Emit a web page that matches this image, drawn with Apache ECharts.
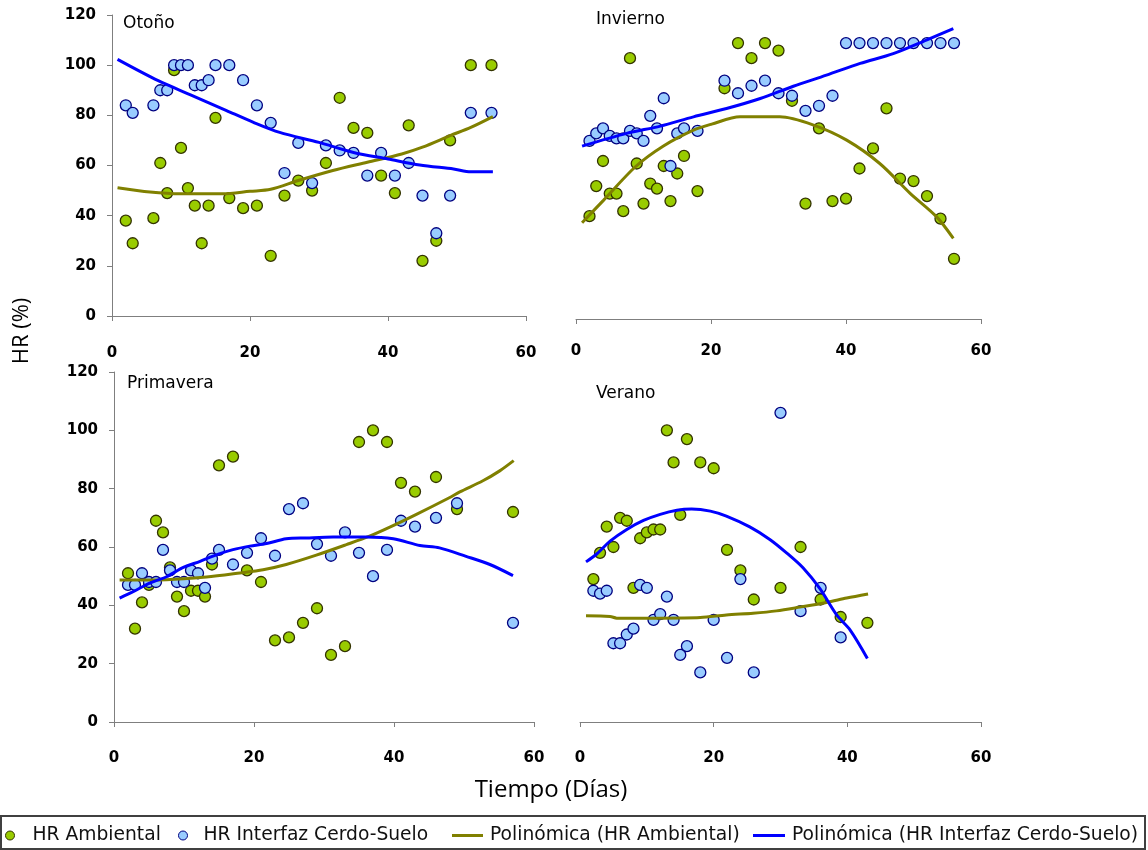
<!DOCTYPE html>
<html>
<head>
<meta charset="utf-8">
<script src="https://cdn.jsdelivr.net/npm/echarts@6/dist/echarts.min.js"></script>
<style>
html,body{margin:0;padding:0;background:#fff;}
#chart{width:1148px;height:850px;}
</style>
</head>
<body>
<div id="chart"></div>
<script>
// ---- Data: [día, HR %] ----
var panelNames = ['Otoño', 'Invierno', 'Primavera', 'Verano'];
var xTicks = [0, 20, 40, 60];
var yTicks = [0, 20, 40, 60, 80, 100, 120];
var seriesNames = ['HR Ambiental', 'HR Interfaz Cerdo-Suelo', 'Polinómica (HR Ambiental)', 'Polinómica (HR Interfaz Cerdo-Suelo)'];

// Otoño
var otonoAmb = [[2,38],[3,29],[6,39],[7,61],[8,49],[9,98],[10,67],[11,51],[12,44],[13,29],[14,44],[15,79],[17,47],[19,43],[21,44],[23,24],[25,48],[27,54],[29,50],[31,61],[33,87],[35,75],[37,73],[39,56],[41,49],[43,76],[45,22],[47,30],[49,70],[52,100],[55,100]];
var otonoInt = [[2,84],[3,81],[6,84],[7,90],[8,90],[9,100],[10,100],[11,100],[12,92],[13,92],[14,94],[15,100],[17,100],[19,94],[21,84],[23,77],[25,57],[27,69],[29,53],[31,68],[33,66],[35,65],[37,56],[39,65],[41,56],[43,61],[45,48],[47,33],[49,48],[52,81],[55,81]];
var otonoAmbTrend = [[0.8,51.1],[5.5,49.4],[10,48.7],[16,48.7],[20,49.7],[23,50.5],[27,54],[32,58],[37,61.3],[42,64.6],[45,67.3],[49,71.9],[52,75.2],[55.2,79.5]];
var otonoIntTrend = [[0.8,102.3],[6.7,93.8],[11.3,88.3],[16.6,81.9],[20.5,77.2],[24.3,73.2],[30,69.2],[35,65.2],[40,62.6],[44.6,60.2],[49.5,58.6],[52,57.5],[55.2,57.5]];

// Invierno
var inviernoAmb = [[2,41],[3,53],[4,63],[5,50],[6,50],[7,43],[8,104],[9,62],[10,46],[11,54],[12,52],[13,61],[14,47],[15,58],[16,65],[18,51],[22,92],[24,110],[26,104],[28,110],[30,107],[32,87],[34,46],[36,76],[38,47],[40,48],[42,60],[44,68],[46,84],[48,56],[50,55],[52,49],[54,40],[56,24]];
var inviernoInt = [[2,71],[3,74],[4,76],[5,73],[6,72],[7,72],[8,75],[9,74],[10,71],[11,81],[12,76],[13,88],[14,61],[15,74],[16,76],[18,75],[22,95],[24,90],[26,93],[28,95],[30,90],[32,89],[34,83],[36,85],[38,89],[40,110],[42,110],[44,110],[46,110],[48,110],[50,110],[52,110],[54,110],[56,110]];
var inviernoAmbTrend = [[0.9,38.4],[4.1,47.4],[8.8,60.7],[12.9,68.9],[17.4,75.3],[20.1,77.7],[24.3,80.6],[30.2,80.6],[35.2,77.3],[40.1,71.3],[45,62],[49.5,50.1],[53.4,40.8],[55.9,32.1]];
var inviernoIntTrend = [[0.9,68.9],[7.5,74],[12.5,76.9],[17.4,80.6],[22.3,83.9],[27.3,87.9],[32.2,92.8],[37.1,97.2],[42.1,101.9],[47,105.8],[51.9,111.2],[55.9,115.8]];

// Primavera
var primaveraAmb = [[2,51],[3,32],[4,41],[5,47],[6,69],[7,65],[8,53],[9,43],[10,38],[11,45],[12,45],[13,43],[14,54],[15,88],[17,91],[19,52],[21,48],[23,28],[25,29],[27,34],[29,39],[31,23],[33,26],[35,96],[37,100],[39,96],[41,82],[43,79],[46,84],[49,73],[57,72]];
var primaveraInt = [[2,47],[3,47],[4,51],[5,48],[6,48],[7,59],[8,52],[9,48],[10,48],[11,52],[12,51],[13,46],[14,56],[15,59],[17,54],[19,58],[21,63],[23,57],[25,73],[27,75],[29,61],[31,57],[33,65],[35,58],[37,50],[39,59],[41,69],[43,67],[46,70],[49,75],[57,34]];
var primaveraAmbTrend = [[0.8,48.7],[7.5,48.8],[13.2,49.7],[18,51.1],[21.3,52.2],[24.6,54],[28.9,57.2],[33.2,60.8],[36.5,63.7],[39.4,66.8],[43.2,71.2],[47.9,76.9],[49.4,78.9],[52.7,82.7],[55.1,86.1],[57.1,89.6]];
var primaveraIntTrend = [[0.8,42.5],[2.8,44.8],[5.1,47.6],[7.5,49.8],[9.9,53],[12.3,55.1],[14.7,57.4],[17,59.1],[19.4,60.3],[21.8,61.2],[24.6,62.8],[27.5,63.1],[31.3,63.4],[36.1,63.4],[39.9,62.8],[43.7,60.5],[46.5,59.7],[50.3,56.8],[53.7,54],[57,50.2]];

// Verano
var veranoAmb = [[2,49],[3,58],[4,67],[5,60],[6,70],[7,69],[8,46],[9,63],[10,65],[11,66],[12,66],[13,100],[14,89],[15,71],[16,97],[18,89],[20,87],[22,59],[24,52],[26,42],[30,46],[33,60],[36,42],[39,36],[43,34]];
var veranoInt = [[2,45],[3,44],[4,45],[5,27],[6,27],[7,30],[8,32],[9,47],[10,46],[11,35],[12,37],[13,43],[14,35],[15,23],[16,26],[18,17],[20,35],[22,22],[24,49],[26,17],[30,106],[33,38],[36,46],[39,29]];
var veranoAmbTrend = [[0.9,36.4],[4.5,36.2],[5.5,35.6],[12,35.6],[18,35.8],[21.9,36.7],[25.9,37.3],[29.4,38.1],[32.9,39.4],[36.9,41],[39.9,42.5],[43.1,43.9]];
var veranoIntTrend = [[0.9,54.9],[2.5,57.6],[4.5,62],[7,66],[9.5,69.1],[12,71.2],[14.5,72.6],[16.7,73],[19.5,72.3],[21.9,70.6],[25.4,66.9],[28.4,62.6],[30.9,58],[33.4,52.8],[35.9,45.7],[38.4,36.7],[40.4,31.6],[43,21.8]];

var panels = [
  {amb: otonoAmb, int: otonoInt, ambT: otonoAmbTrend, intT: otonoIntTrend},
  {amb: inviernoAmb, int: inviernoInt, ambT: inviernoAmbTrend, intT: inviernoIntTrend},
  {amb: primaveraAmb, int: primaveraInt, ambT: primaveraAmbTrend, intT: primaveraIntTrend},
  {amb: veranoAmb, int: veranoInt, ambT: veranoAmbTrend, intT: veranoIntTrend}
];

// ---- Layout / styles ----
var grids = [
  {left: 112, top: 15, width: 414, height: 301},
  {left: 576, top: 18, width: 405, height: 301},
  {left: 114, top: 372, width: 420, height: 350},
  {left: 580, top: 372, width: 401, height: 350}
];
var xLabelMargin = [30, 25, 29, 29];
var showY = [true, false, true, false];
var titlePos = [[123, 15], [596, 11], [127, 375], [596, 385]];

var axisColor = '#7f7f7f';
var tickFont = {color: '#000', fontWeight: 'bold', fontSize: 15, fontFamily: 'DejaVu Sans'};
var ambFill = '#99CC00', ambBorder = '#333300';
var intFill = '#99CCFF', intBorder = '#000080';
var ambLine = '#808000', intLine = '#0000FF';

var xAxes = [], yAxes = [], series = [], titles = [];
for (var i = 0; i < 4; i++) {
  xAxes.push({
    type: 'value', gridIndex: i, min: xTicks[0], max: xTicks[xTicks.length - 1], interval: 20,
    axisLine: {show: true, onZero: false, lineStyle: {color: axisColor, width: 1}},
    axisTick: {show: true, length: 5, lineStyle: {color: axisColor}},
    axisLabel: Object.assign({margin: xLabelMargin[i], showMinLabel: true, showMaxLabel: true}, tickFont),
    splitLine: {show: false}
  });
  yAxes.push({
    type: 'value', gridIndex: i, min: yTicks[0], max: yTicks[yTicks.length - 1], interval: 20,
    axisLine: {show: showY[i], lineStyle: {color: axisColor, width: 1}},
    axisTick: {show: showY[i], length: 5, lineStyle: {color: axisColor}},
    axisLabel: Object.assign({show: showY[i], margin: 16}, tickFont),
    splitLine: {show: false}
  });
  var p = panels[i];
  series.push({
    name: seriesNames[0], type: 'scatter', xAxisIndex: i, yAxisIndex: i, data: p.amb,
    symbol: 'circle', symbolSize: 11, z: 2,
    itemStyle: {color: ambFill, borderColor: ambBorder, borderWidth: 1.3, opacity: 1}
  });
  series.push({
    name: seriesNames[1], type: 'scatter', xAxisIndex: i, yAxisIndex: i, data: p.int,
    symbol: 'circle', symbolSize: 11, z: 3,
    itemStyle: {color: intFill, borderColor: intBorder, borderWidth: 1.3, opacity: 1}
  });
  series.push({
    name: seriesNames[2], type: 'line', xAxisIndex: i, yAxisIndex: i, data: p.ambT,
    showSymbol: false, symbol: 'none', smooth: 0.3, z: 4,
    lineStyle: {color: ambLine, width: 3}, itemStyle: {color: ambLine}
  });
  series.push({
    name: seriesNames[3], type: 'line', xAxisIndex: i, yAxisIndex: i, data: p.intT,
    showSymbol: false, symbol: 'none', smooth: 0.3, z: 5,
    lineStyle: {color: intLine, width: 3}, itemStyle: {color: intLine}
  });
  titles.push({
    text: panelNames[i], left: titlePos[i][0], top: titlePos[i][1], padding: 0,
    textStyle: {fontFamily: 'DejaVu Sans', fontSize: 17, fontWeight: 'normal', color: '#000'}
  });
}

var legendFont = {fontFamily: 'DejaVu Sans', fontSize: 18.7, color: '#111'};
var legends = [
  {data: [{name: seriesNames[0], icon: 'circle', itemStyle: {color: ambFill, borderColor: ambBorder, borderWidth: 1}}], left: 5, itemWidth: 9, itemHeight: 9, pad: 13},
  {data: [{name: seriesNames[1], icon: 'circle', itemStyle: {color: intFill, borderColor: intBorder, borderWidth: 1}}], left: 178, itemWidth: 9, itemHeight: 9, pad: 11},
  {data: [{name: seriesNames[2], icon: 'rect', itemStyle: {color: ambLine, borderWidth: 0}}], left: 452, itemWidth: 31, itemHeight: 3, pad: 2},
  {data: [{name: seriesNames[3], icon: 'rect', itemStyle: {color: intLine, borderWidth: 0}}], left: 753, itemWidth: 32, itemHeight: 3, pad: 2}
].map(function (l) {
  return {
    data: l.data, left: l.left, top: 826, padding: 0, orient: 'horizontal',
    itemWidth: l.itemWidth, itemHeight: l.itemHeight, selectedMode: false,
    textStyle: Object.assign({padding: [0, 0, 0, l.pad]}, legendFont)
  };
});

var option = {
  animation: false,
  backgroundColor: '#fff',
  title: titles,
  grid: grids,
  xAxis: xAxes,
  yAxis: yAxes,
  legend: legends,
  series: series,
  graphic: [
    {type: 'rect', shape: {x: 1, y: 816, width: 1144, height: 33}, style: {fill: 'none', stroke: '#404040', lineWidth: 2}, silent: true},
    {type: 'text', x: 22, y: 331, rotation: Math.PI / 2, style: {text: 'HR (%)', fontFamily: 'Open Sans', fontSize: 22, fill: '#000', align: 'center', verticalAlign: 'middle'}},
    {type: 'text', x: 551, y: 790, style: {text: 'Tiempo (Días)', fontFamily: 'Open Sans', fontSize: 24, fill: '#000', align: 'center', verticalAlign: 'middle'}}
  ]
};

var chart = echarts.init(document.getElementById('chart'), null, {renderer: 'canvas'});
chart.setOption(option);
</script>
</body>
</html>
